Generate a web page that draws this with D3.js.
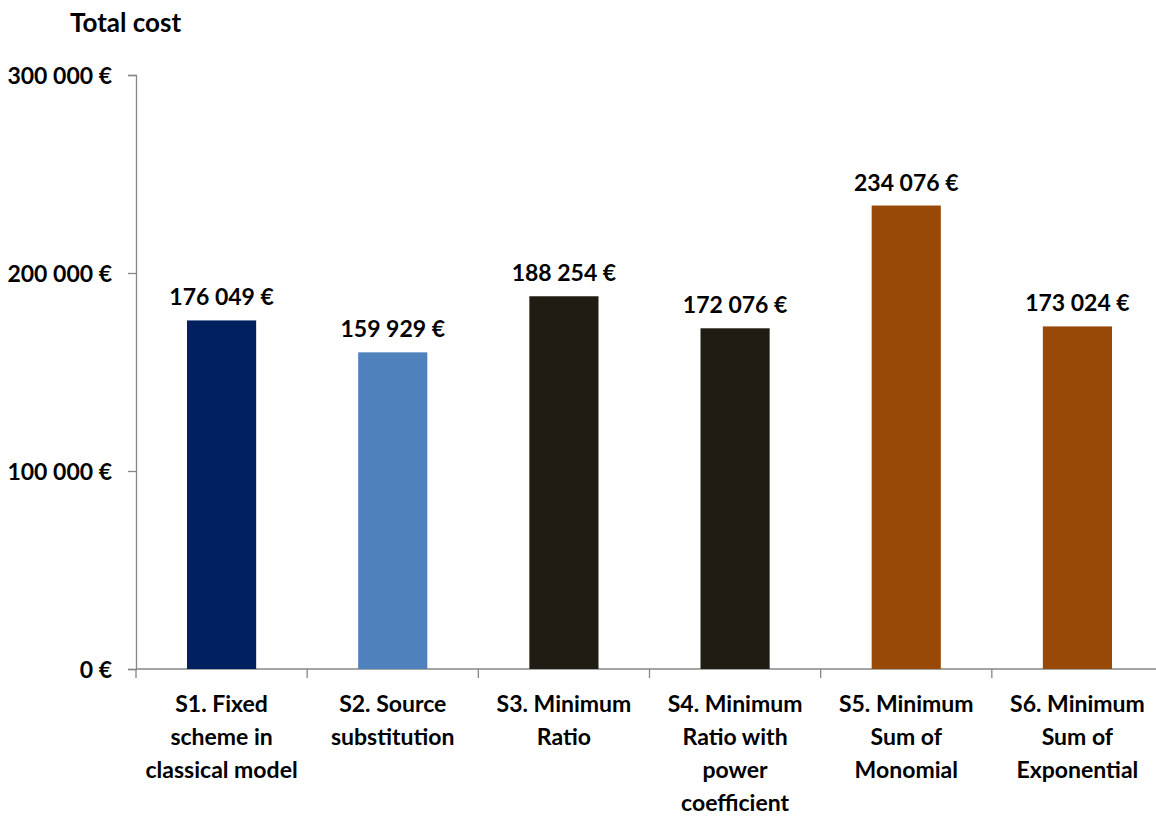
<!DOCTYPE html>
<html>
<head>
<meta charset="utf-8">
<script src="https://cdn.jsdelivr.net/npm/d3@7"></script>
<style>
  html, body { margin: 0; padding: 0; background: #fff; }
  svg { display: block; }
  text { font-family: Lato, "Open Sans", sans-serif; font-weight: 700; fill: #000; }
</style>
</head>
<body>
<svg id="chart" width="1156" height="817"></svg>
<script>
// ---- data ----
const categories = ["S1", "S2", "S3", "S4", "S5", "S6"];
const categoryLabels = [
  ["S1. Fixed", "scheme in", "classical model"],
  ["S2. Source", "substitution"],
  ["S3. Minimum", "Ratio"],
  ["S4. Minimum", "Ratio with", "power", "coefficient"],
  ["S5. Minimum", "Sum of", "Monomial"],
  ["S6. Minimum", "Sum of", "Exponential"]
];
const totalCost = [176049, 159929, 188254, 172076, 234076, 173024];
const barColors = ["#002060", "#4F81BD", "#1F1D13", "#1F1D13", "#984807", "#984807"];
const yTicks = [0, 100000, 200000, 300000];
const yTitle = "Total cost";

// ---- layout ----
const svg = d3.select("#chart");
const mLeft = 136, mRight = 1163, mTop = 75, mBottom = 669;

const x = d3.scaleBand().domain(categories).range([mLeft, mRight]).padding(0);
const y = d3.scaleLinear().domain([0, 300000]).range([mBottom, mTop]);

const fmt = v => d3.format(",")(v).replace(/,/g, " ") + " €";
const axisColor = "#868686";

// y axis
const yAxis = svg.append("g")
  .attr("transform", `translate(${mLeft},0)`)
  .call(d3.axisLeft(y).tickValues(yTicks).tickSize(8).tickPadding(16).tickFormat(fmt));
yAxis.select(".domain").attr("stroke", axisColor).attr("stroke-width", 1.3);
yAxis.selectAll(".tick line").attr("stroke", axisColor).attr("stroke-width", 1.3);
yAxis.selectAll(".tick text")
  .style("font-family", "Lato, sans-serif").style("font-weight", 700)
  .style("font-size", "23px").attr("fill", "#000").attr("dy", "0.36em");

// x axis line
svg.append("line")
  .attr("x1", mLeft).attr("x2", mRight)
  .attr("y1", y(0)).attr("y2", y(0))
  .attr("stroke", axisColor).attr("stroke-width", 1.3);

// x boundary ticks
const bounds = categories.map(c => x(c)).concat([x(categories[categories.length - 1]) + x.bandwidth()]);
svg.selectAll(".xtick").data(bounds).enter().append("line")
  .attr("x1", d => d).attr("x2", d => d)
  .attr("y1", y(0)).attr("y2", y(0) + 9)
  .attr("stroke", axisColor).attr("stroke-width", 1.3);

// bars
const barW = x.bandwidth() * 0.404;
svg.selectAll(".bar").data(totalCost).enter().append("rect")
  .attr("x", (d, i) => x(categories[i]) + (x.bandwidth() - barW) / 2)
  .attr("y", d => y(d))
  .attr("width", barW)
  .attr("height", d => y(0) - y(d))
  .attr("fill", (d, i) => barColors[i]);

// value labels
svg.selectAll(".val").data(totalCost).enter().append("text")
  .attr("x", (d, i) => x(categories[i]) + x.bandwidth() / 2)
  .attr("y", d => y(d) - 15)
  .attr("text-anchor", "middle")
  .style("font-size", "23px")
  .text(d => fmt(d));

// category labels
categoryLabels.forEach((lines, i) => {
  const t = svg.append("text")
    .attr("text-anchor", "middle")
    .style("font-size", "23px");
  lines.forEach((ln, j) => {
    t.append("tspan")
      .attr("x", x(categories[i]) + x.bandwidth() / 2)
      .attr("y", y(0) + 43 + j * 33)
      .text(ln);
  });
});

// title
svg.append("text")
  .attr("x", 70).attr("y", 32)
  .style("font-size", "26px")
  .text(yTitle);
</script>
</body>
</html>
